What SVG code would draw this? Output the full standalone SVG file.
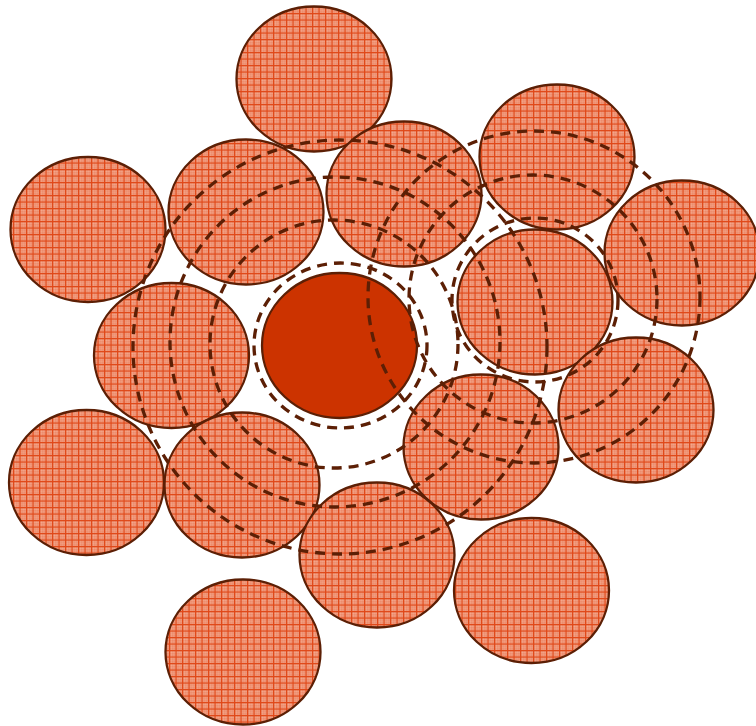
<svg xmlns="http://www.w3.org/2000/svg" width="756" height="726" viewBox="0 0 756 726">
<defs>
<pattern id="chk" width="2" height="2" patternUnits="userSpaceOnUse">
<rect width="2" height="2" fill="#ee9272"/>
<rect width="1" height="1" fill="#f6b097"/>
<rect x="1" y="1" width="1" height="1" fill="#e5704e"/>
</pattern>
<pattern id="grid" width="6.5" height="6.5" patternUnits="userSpaceOnUse">
<rect width="6.5" height="6.5" fill="url(#chk)"/>
<rect x="0" y="0" width="1.1" height="6.5" fill="#e04818"/>
<rect x="0" y="0" width="6.5" height="1.1" fill="#e04818"/>
</pattern>
<style>
.b{fill:url(#grid);stroke:#5c1f05;stroke-width:2.3}
.c{fill:#cc3300;stroke:#5c1f05;stroke-width:2.3}
.d{fill:none;stroke:#5c1f05;stroke-width:3.3;stroke-dasharray:10 7}
</style>
</defs>
<rect width="756" height="726" fill="#ffffff"/>
<g id="n1"><ellipse class="b" cx="314" cy="79" rx="77.5" ry="72.5"/></g>
<g id="n2"><ellipse class="b" cx="557" cy="157" rx="77.5" ry="72.5"/></g>
<g id="n3"><ellipse class="b" cx="682" cy="253" rx="77.5" ry="72.5"/></g>
<g id="n4"><ellipse class="b" cx="88" cy="229.5" rx="77.5" ry="72.5"/></g>
<g id="n5"><ellipse class="b" cx="246" cy="212" rx="77.5" ry="72.5"/></g>
<g id="n6"><ellipse class="b" cx="404" cy="194" rx="77.5" ry="72.5"/></g>
<g id="n7"><ellipse class="b" cx="535" cy="302" rx="77.5" ry="72.5"/></g>
<g id="n8"><ellipse class="b" cx="171.5" cy="355.5" rx="77.5" ry="72.5"/></g>
<g id="n10"><ellipse class="b" cx="636" cy="410" rx="77.5" ry="72.5"/></g>
<g id="n11"><ellipse class="b" cx="86.5" cy="482.5" rx="77.5" ry="72.5"/></g>
<g id="n12"><ellipse class="b" cx="242" cy="485" rx="77.5" ry="72.5"/></g>
<g id="n13"><ellipse class="b" cx="481" cy="447" rx="77.5" ry="72.5"/></g>
<g id="n14"><ellipse class="b" cx="377" cy="555" rx="77.5" ry="72.5"/></g>
<g id="n15"><ellipse class="b" cx="531.5" cy="590.5" rx="77.5" ry="72.5"/></g>
<g id="n16"><ellipse class="b" cx="243" cy="652" rx="77.5" ry="72.5"/></g>
<g id="center"><ellipse class="c" cx="339.5" cy="345.5" rx="77.5" ry="72.5"/></g>
<g id="rings">
<ellipse class="d" cx="340.5" cy="345.5" rx="86.5" ry="82.5"/>
<ellipse class="d" cx="340" cy="347" rx="207" ry="207"/>
<ellipse class="d" cx="335" cy="342" rx="165" ry="165"/>
<ellipse class="d" cx="334" cy="344" rx="124" ry="124"/>
<ellipse class="d" cx="534" cy="297" rx="166" ry="166"/>
<ellipse class="d" cx="533" cy="299" rx="124" ry="124"/>
<ellipse class="d" cx="535" cy="300" rx="83" ry="82"/>
</g>
</svg>
